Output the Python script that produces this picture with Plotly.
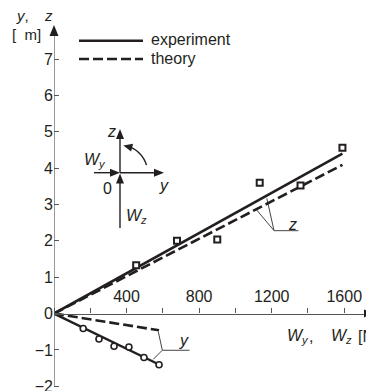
import math
import plotly.graph_objects as go

# ---------------- data ----------------
x_major_ticks = [400, 800, 1200, 1600]
y_tick_vals = [-2, -1, 0, 1, 2, 3, 4, 5, 6, 7]

# z (vertical) – experiment points & fitted lines
wz_points = [453, 678, 900, 1134, 1359, 1590]
z_points = [1.33, 2.00, 2.04, 3.60, 3.52, 4.56]
wz_line = [0, 1590]
z_experiment = [0, 4.40]
z_theory = [0, 4.09]

# y (horizontal) – experiment points & lines
wy_points = [161, 248, 331, 413, 496, 579]
y_points = [-0.41, -0.70, -0.90, -0.92, -1.21, -1.41]
wy_line = [0, 579]
y_experiment = [0, -1.40]
y_theory = [0, -0.46]

# leader lines for curve labels (data coords)
z_leader_x = [1173, 1213, 1347]
z_leader_y = [3.17, 2.28, 2.28]
z_leader2_x = [1117, 1213]
z_leader2_y = [2.85, 2.28]
y_leader_x = [575, 597, 747]
y_leader_y = [-0.50, -1.01, -1.01]
y_leader2_x = [547, 597]
y_leader2_y = [-1.26, -1.01]

# ---------------- layout geometry ----------------
OFF = 8                      # page body margin offset
W, H = 374 - OFF, 391 - OFF  # figure size
ML, MR, MT, MB = 54 - OFF, 0, 30 - OFF, 0
PW, PH = W - ML - MR, H - MT - MB
XMAX, YMIN, YMAX = 1764, -2.13, 7.8

INK = "#231f20"
AX = "#555555"
FONT = "Liberation Sans, Arial, sans-serif"


def pp(px, py):
    # px, py are positions in the 374x391 window
    px -= OFF
    py -= OFF
    return (px - ML) / PW, (H - MB - py) / PH


shapes = []
annotations = []


def seg(p1, p2, width=1.4, color=INK, dash="solid"):
    x0, y0 = pp(*p1)
    x1, y1 = pp(*p2)
    shapes.append(dict(type="line", xref="paper", yref="paper", x0=x0, y0=y0,
                       x1=x1, y1=y1, line=dict(color=color, width=width, dash=dash)))


def head(tip, d, L=10, Wd=8, color=INK):
    dx, dy = d
    n = math.hypot(dx, dy)
    dx, dy = dx / n, dy / n
    bx, by = tip[0] - L * dx, tip[1] - L * dy
    qx, qy = -dy, dx
    pts = [tip, (bx + qx * Wd / 2, by + qy * Wd / 2), (bx - qx * Wd / 2, by - qy * Wd / 2)]
    path = "M " + " L ".join("%f,%f" % pp(*p) for p in pts) + " Z"
    shapes.append(dict(type="path", xref="paper", yref="paper", path=path,
                       fillcolor=color, line=dict(width=0)))


def text(s, px, py, size=16, xanchor="center", color=INK):
    x, y = pp(px, py)
    annotations.append(dict(text=s, x=x, y=y, xref="paper", yref="paper",
                            showarrow=False, xanchor=xanchor, yanchor="middle",
                            borderpad=0,
                            font=dict(size=size, color=color, family=FONT)))


fig = go.Figure()

# leader lines (data coords)
for lx, ly in [(z_leader_x, z_leader_y), (z_leader2_x, z_leader2_y),
               (y_leader_x, y_leader_y), (y_leader2_x, y_leader2_y)]:
    fig.add_trace(go.Scatter(x=lx, y=ly, mode="lines", line=dict(color="#444", width=1),
                             hoverinfo="skip", showlegend=False))

# lines
fig.add_trace(go.Scatter(x=wz_line, y=z_experiment, mode="lines",
                         line=dict(color=INK, width=2.6), showlegend=False))
fig.add_trace(go.Scatter(x=wz_line, y=z_theory, mode="lines",
                         line=dict(color=INK, width=2.6, dash="10px,4px"), showlegend=False))
fig.add_trace(go.Scatter(x=wy_line, y=y_experiment, mode="lines",
                         line=dict(color=INK, width=2.4), showlegend=False))
fig.add_trace(go.Scatter(x=wy_line, y=y_theory, mode="lines",
                         line=dict(color=INK, width=2.6, dash="10px,4px"), showlegend=False))
# markers
fig.add_trace(go.Scatter(x=wz_points, y=z_points, mode="markers",
                         marker=dict(symbol="square", size=6, color="white",
                                     line=dict(color=INK, width=2)), showlegend=False))
fig.add_trace(go.Scatter(x=wy_points, y=y_points, mode="markers",
                         marker=dict(symbol="circle", size=6, color="white",
                                     line=dict(color=INK, width=1.6)), showlegend=False))

# curve labels (data coords)
fig.add_annotation(x=1312, y=2.46, text="<i>z</i>", showarrow=False,
                   font=dict(size=16, color=INK, family=FONT))
fig.add_annotation(x=717, y=-0.73, text="<i>y</i>", showarrow=False,
                   font=dict(size=16, color=INK, family=FONT))

# vertical axis line (ends at -2) and axis arrows
fig.add_shape(type="line", xref="x", yref="y", x0=0, x1=0, y0=-2, y1=YMAX,
              line=dict(color=AX, width=1.2))
head((54, 25), (0, -1), L=11, Wd=9)
head((374, 313.4), (1, 0), L=10, Wd=8)

# legend (manual)
seg((79, 40.7), (143, 40.7), width=2.6)
seg((79, 59), (143, 59), width=2.6, dash="10px,4px")
text("experiment", 150, 40, xanchor="left")
text("theory", 150, 58, xanchor="left")

# axis titles
text("<i>y</i>,", 15, 16, size=15, xanchor="left")
text("<i>z</i>", 43, 16, size=15, xanchor="left")
text("[  m]", 11, 34, size=15, xanchor="left")
text("<i>W</i><sub><i>y</i></sub>", 286, 336, xanchor="left")
text(",", 308, 336, xanchor="left")
text("<i>W</i><sub><i>z</i></sub>", 330, 336, xanchor="left")
text("[N]", 357, 336, xanchor="left")

# inset coordinate diagram
O = (120, 172.7)
seg(O, (120, 134))
head((120, 129), (0, -1), L=10, Wd=8)
seg(O, (158, 172.7))
head((164, 172.7), (1, 0), L=10, Wd=8)
seg((94, 172.7), (112, 172.7))
head((120, 172.7), (1, 0), L=10, Wd=8)
seg((120, 228), (120, 180))
head((120, 173.5), (0, -1), L=10, Wd=8)
r = 27.5
arc = []
for k in range(13):
    th = math.radians(16 + k * (70 - 16) / 12)
    arc.append((O[0] + r * math.cos(th), O[1] - r * math.sin(th)))
arc_path = "M " + " L ".join("%f,%f" % pp(*p) for p in arc)
shapes.append(dict(type="path", xref="paper", yref="paper", path=arc_path,
                   line=dict(color=INK, width=1.4)))
tht = math.radians(83)
tip = (O[0] + r * math.cos(tht), O[1] - r * math.sin(tht))
thm = math.radians(76)
head(tip, (-math.sin(thm), -math.cos(thm)), L=9, Wd=8)
text("<i>z</i>", 111, 131)
text("<i>W</i><sub><i>y</i></sub>", 83, 160, xanchor="left")
text("0", 107.5, 188)
text("<i>y</i>", 164, 185)
text("<i>W</i><sub><i>z</i></sub>", 125, 216, xanchor="left")

fig.update_layout(
    width=W, height=H,
    margin=dict(l=ML, r=MR, t=MT, b=MB, autoexpand=False),
    paper_bgcolor="white", plot_bgcolor="white",
    font=dict(family=FONT, color=INK, size=16),
    showlegend=False,
    shapes=list(fig.layout.shapes) + shapes,
    annotations=list(fig.layout.annotations) + annotations,
    xaxis=dict(range=[0, XMAX], anchor="free", position=(0 - YMIN) / (YMAX - YMIN),
               side="top", ticks="outside", ticklen=5, tickwidth=1, tickcolor=AX,
               showline=True, linecolor=AX, linewidth=1.2, showgrid=False, zeroline=False,
               tickmode="array", tickvals=x_major_ticks, ticklabeloverflow="allow",
               automargin=False,
               minor=dict(tick0=0, dtick=200, ticks="outside", ticklen=5,
                          tickwidth=1, tickcolor=AX, showgrid=False),
               tickfont=dict(size=16, color=INK, family=FONT)),
    yaxis=dict(range=[YMIN, YMAX], ticks="inside", ticklen=5, tickwidth=1, tickcolor=AX,
               showline=False, showgrid=False, zeroline=False, ticklabeloverflow="allow",
               automargin=False,
               tickmode="array", tickvals=y_tick_vals,
               tickfont=dict(size=16, color=INK, family=FONT)),
)

fig.write_html("out.html")
